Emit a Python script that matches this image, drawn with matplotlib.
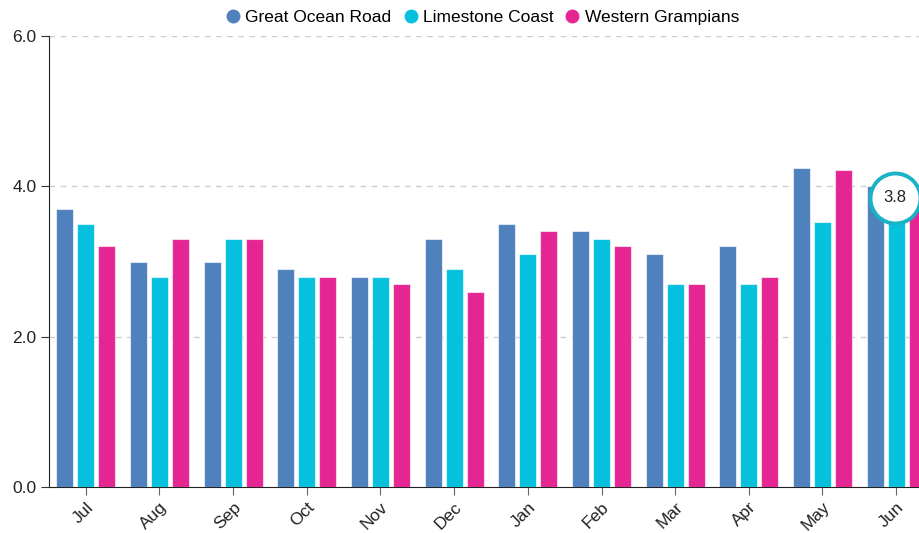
import matplotlib
matplotlib.use("Agg")
import matplotlib.pyplot as plt
from matplotlib.lines import Line2D
import numpy as np

plt.rcParams['font.family'] = ['Liberation Sans', 'DejaVu Sans']

months = ["Jul", "Aug", "Sep", "Oct", "Nov", "Dec", "Jan", "Feb", "Mar", "Apr", "May", "Jun"]
series_names = ["Great Ocean Road", "Limestone Coast", "Western Grampians"]
great_ocean_road = [3.7, 3.0, 3.0, 2.9, 2.8, 3.3, 3.5, 3.4, 3.1, 3.2, 4.25, 4.0]
limestone_coast = [3.5, 2.8, 3.3, 2.8, 2.8, 2.9, 3.1, 3.3, 2.7, 2.7, 3.52, 3.8]
western_grampians = [3.2, 3.3, 3.3, 2.8, 2.7, 2.6, 3.4, 3.2, 2.7, 2.8, 4.22, 3.9]
colors = ["#4f81bd", "#06c1de", "#e52592"]
y_ticks = [0.0, 2.0, 4.0, 6.0]

# highlighted point: Limestone Coast in Jun
hl_series, hl_month = 1, 11

fig = plt.figure(figsize=(9.2, 5.33), dpi=100)
ax = fig.add_axes([49 / 920, 46 / 533, 884 / 920, 451 / 533])

x = np.arange(len(months))
width = 0.235
step = 0.285
all_series = [great_ocean_road, limestone_coast, western_grampians]
for i, (vals, c, name) in enumerate(zip(all_series, colors, series_names)):
    ax.bar(x + (i - 1) * step, vals, width=width, color=c, edgecolor=(1, 1, 1, 0.6),
           linewidth=0.8, label=name, zorder=3)

ax.set_xlim(-0.5, len(months) - 0.5)
ax.set_ylim(0, 6)
ax.set_yticks(y_ticks)
ax.set_yticklabels([f"{v:.1f}" for v in y_ticks], fontsize=12.5, color="#222222")
for v in y_ticks[1:]:
    ax.axhline(v, color="#cccccc", linestyle=(0, (4, 4)), linewidth=1.0, zorder=1)

ax.set_xticks(x)
ax.set_xticklabels(months, rotation=45, ha="right", rotation_mode="anchor", fontsize=12.5,
                   color="#222222")
ax.tick_params(axis="x", length=6, color="#666666", pad=3)
ax.tick_params(axis="y", length=6, color="#333333", pad=3)

for s in ["top", "right"]:
    ax.spines[s].set_visible(False)
ax.spines["left"].set_color("#222222")
ax.spines["bottom"].set_color("#222222")

# tooltip bubble over the highlighted bar
hx = hl_month + (hl_series - 1) * step
hy = all_series[hl_series][hl_month]
ax.plot(hx - 0.02, hy + 0.05, marker="o", markersize=36, markerfacecolor="white",
        markeredgecolor="#1ab3c6", markeredgewidth=2.8, zorder=6, clip_on=False)
ax.text(hx - 0.02, hy + 0.05, f"{hy:.1f}", ha="center", va="center", fontsize=12,
        color="#222222", zorder=7)

handles = [Line2D([], [], marker="o", linestyle="none", markersize=9, color=c) for c in colors]
fig.legend(handles, series_names, loc="upper center", bbox_to_anchor=(0.525, 1.009), ncol=3,
           frameon=False, fontsize=12.5, handlelength=0.7, handletextpad=0.35,
           columnspacing=0.75, borderpad=0.35)

fig.savefig("out.png", dpi=100)
